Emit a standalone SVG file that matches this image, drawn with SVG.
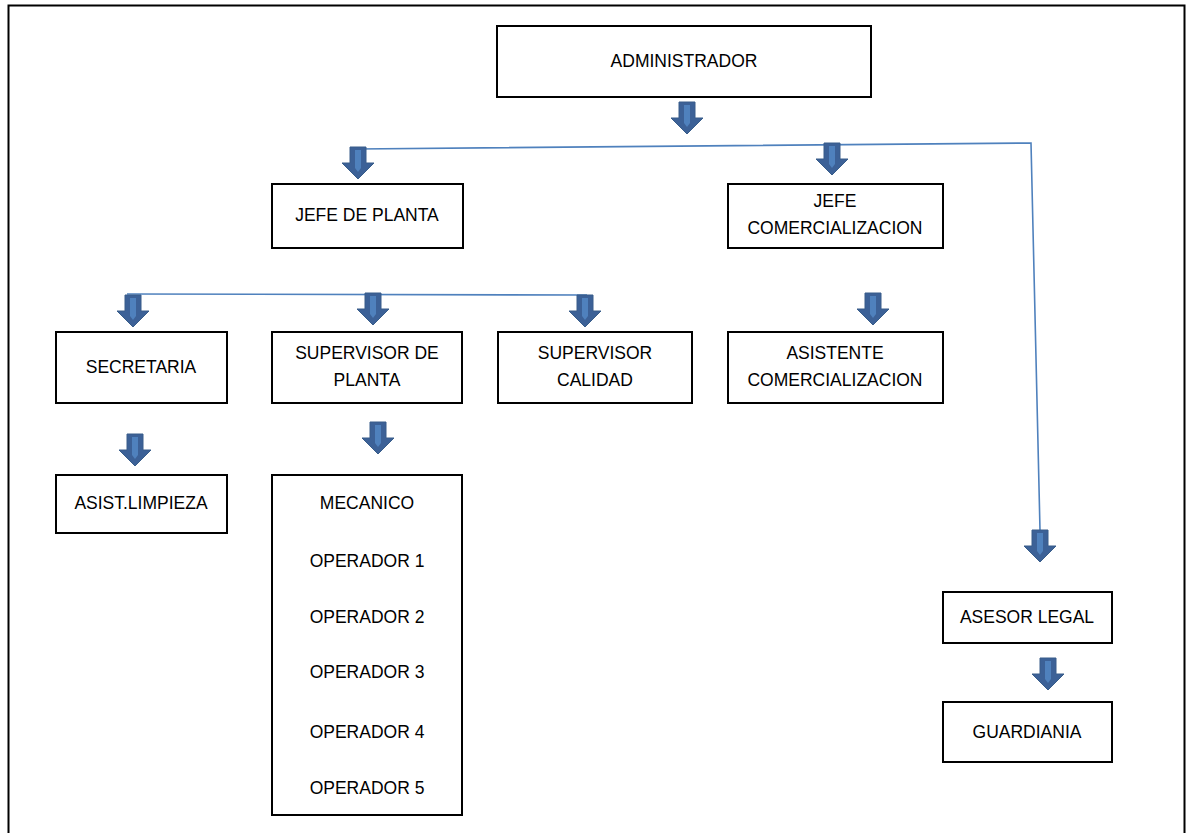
<svg xmlns="http://www.w3.org/2000/svg" xmlns:xlink="http://www.w3.org/1999/xlink" width="1188" height="833" viewBox="0 0 1188 833">
<style>
.box{fill:#fff;stroke:#000;stroke-width:2}
.t{font-family:"Liberation Sans",Arial,sans-serif;font-size:17.5px;fill:#000;text-anchor:middle}
.ln{fill:none;stroke:#4F81BD;stroke-width:1.6}
</style>
<defs>
<g id="arr">
<path d="M-8,0 H8 V16 H16 L0,32 L-16,16 H-8 Z" fill="#3C6197" stroke="#385D8A" stroke-width="1"/>
<path d="M-3,3 H3 V21 L0,25 L-3,21 Z" fill="#4F81BD"/>
</g>
</defs>
<rect width="1188" height="833" fill="#fff"/>
<rect x="8.5" y="5.5" width="1176" height="840" fill="none" stroke="#000" stroke-width="2"/>
<g id="connectors">
<path class="ln" d="M357,149 L1031,143 L1040,530"/>
<path class="ln" d="M127,294 L587,295"/>
<use xlink:href="#arr" transform="translate(687,102)"/>
<use xlink:href="#arr" transform="translate(358,147)"/>
<use xlink:href="#arr" transform="translate(832,143)"/>
<use xlink:href="#arr" transform="translate(1040,530)"/>
<use xlink:href="#arr" transform="translate(133,295)"/>
<use xlink:href="#arr" transform="translate(373,293)"/>
<use xlink:href="#arr" transform="translate(585,295)"/>
<use xlink:href="#arr" transform="translate(873,293)"/>
<use xlink:href="#arr" transform="translate(135,434)"/>
<use xlink:href="#arr" transform="translate(378,422)"/>
<use xlink:href="#arr" transform="translate(1048,658)"/>
</g>
<g id="administrador"><rect class="box" x="497" y="26" width="374" height="71"/><text class="t" x="684" y="67">ADMINISTRADOR</text></g>
<g id="jefe-planta"><rect class="box" x="272" y="184" width="191" height="64"/><text class="t" x="367" y="221">JEFE DE PLANTA</text></g>
<g id="jefe-comercializacion"><rect class="box" x="728" y="184" width="215" height="64"/><text class="t" x="835" y="207">JEFE</text><text class="t" x="835" y="234">COMERCIALIZACION</text></g>
<g id="secretaria"><rect class="box" x="56" y="332" width="171" height="71"/><text class="t" x="141" y="373">SECRETARIA</text></g>
<g id="supervisor-planta"><rect class="box" x="272" y="332" width="190" height="71"/><text class="t" x="367" y="359">SUPERVISOR DE</text><text class="t" x="367" y="386">PLANTA</text></g>
<g id="supervisor-calidad"><rect class="box" x="498" y="332" width="194" height="71"/><text class="t" x="595" y="359">SUPERVISOR</text><text class="t" x="595" y="386">CALIDAD</text></g>
<g id="asistente-comercializacion"><rect class="box" x="728" y="332" width="215" height="71"/><text class="t" x="835" y="359">ASISTENTE</text><text class="t" x="835" y="386">COMERCIALIZACION</text></g>
<g id="asist-limpieza"><rect class="box" x="56" y="475" width="171" height="58"/><text class="t" x="141" y="509">ASIST.LIMPIEZA</text></g>
<g id="operarios"><rect class="box" x="272" y="475" width="190" height="340"/>
<text class="t" x="367" y="509">MECANICO</text>
<text class="t" x="367" y="567">OPERADOR 1</text>
<text class="t" x="367" y="623">OPERADOR 2</text>
<text class="t" x="367" y="678">OPERADOR 3</text>
<text class="t" x="367" y="738">OPERADOR 4</text>
<text class="t" x="367" y="794">OPERADOR 5</text>
</g>
<g id="asesor-legal"><rect class="box" x="943" y="592" width="169" height="51"/><text class="t" x="1027" y="623">ASESOR LEGAL</text></g>
<g id="guardiania"><rect class="box" x="943" y="702" width="169" height="60"/><text class="t" x="1027" y="738">GUARDIANIA</text></g>
</svg>
